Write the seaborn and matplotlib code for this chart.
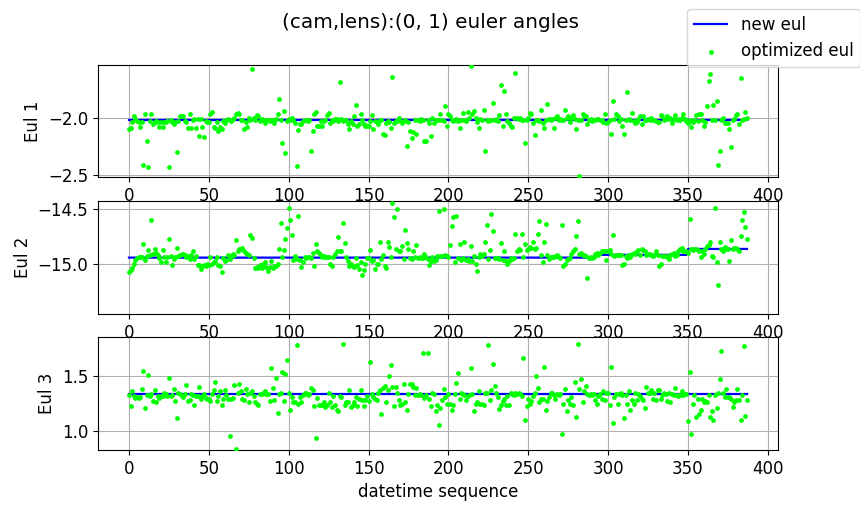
import numpy as np
import pandas as pd
import matplotlib
matplotlib.use("Agg")
import matplotlib.pyplot as plt
import seaborn as sns

plt.rcParams["font.size"] = 12

title = "(cam,lens):(0, 1) euler angles"
ylabels = ["Eul 1", "Eul 2", "Eul 3"]
xlabel = "datetime sequence"
xticks = [0, 50, 100, 150, 200, 250, 300, 350, 400]
yticks1 = [-2.5, -2.0]
yticks2 = [-15.0, -14.5]
yticks3 = [1.0, 1.5]
ylim1 = (-2.517, -1.543)
ylim2 = (-15.46, -14.43)
ylim3 = (0.827, 1.855)

# "new eul" levels (step function: level value starting at index)
new1_starts = [0]
new1_levels = [-2.02]
new2_starts = [0, 292, 350]
new2_levels = [-14.946, -14.921, -14.867]
new3_starts = [0]
new3_levels = [1.338]

eul1 = [
    -2.10, -2.09, -2.04, -1.99, -2.01, -2.03, -2.04, -2.08, -2.04, -2.41,
    -1.97, -2.20, -2.43, -2.03, -1.97, -2.06, -2.04, -2.03, -2.04, -2.08,
    -2.04, -2.08, -2.04, -2.04, -2.03, -2.43, -2.02, -2.04, -2.06, -2.04,
    -2.30, -2.03, -1.99, -1.99, -1.99, -2.03, -2.04, -2.09, -1.97, -2.09,
    -2.02, -2.01, -2.09, -2.01, -2.16, -2.01, -2.08, -2.17, -2.03, -2.04,
    -2.04, -1.97, -1.95, -2.08, -2.09, -2.04, -2.12, -2.08, -2.10, -2.03,
    -2.05, -2.02, -2.01, -2.02, -2.03, -2.01, -2.00, -1.97, -1.96, -1.97,
    -2.02, -2.02, -2.10, -2.04, -2.08, -2.00, -2.02, -1.58, -2.00, -2.02,
    -1.98, -1.99, -2.03, -2.01, -2.02, -2.05, -2.02, -2.02, -2.03, -2.02,
    -2.02, -2.05, -2.01, -1.97, -1.84, -2.02, -2.22, -1.94, -2.31, -2.03,
    -2.01, -2.02, -2.00, -2.02, -2.05, -2.42, -2.11, -2.06, -2.06, -2.03,
    -2.02, -2.02, -2.03, -2.02, -2.29, -2.12, -1.97, -1.95, -2.07, -2.07,
    -2.03, -2.07, -2.03, -2.02, -1.98, -1.96, -2.05, -2.02, -2.03, -2.01,
    -2.01, -2.03, -1.69, -2.01, -2.03, -2.02, -2.02, -2.06, -2.10, -2.03,
    -2.06, -1.99, -1.89, -2.07, -2.06, -1.97, -2.02, -2.06, -2.07, -2.07,
    -2.07, -2.03, -1.98, -2.10, -2.03, -2.04, -2.06, -2.02, -2.02, -2.14,
    -2.15, -2.05, -2.03, -2.04, -2.09, -1.65, -2.05, -2.03, -2.03, -2.00,
    -2.03, -2.05, -2.03, -2.02, -2.25, -2.04, -2.12, -2.18, -2.13, -2.02,
    -2.14, -2.02, -2.03, -2.01, -2.02, -2.20, -2.20, -2.02, -2.05, -2.16,
    -2.00, -2.05, -2.02, -2.02, -2.02, -1.97, -2.02, -2.03, -1.90, -2.07,
    -1.97, -1.99, -2.02, -2.03, -2.02, -2.01, -2.03, -2.09, -2.02, -1.96,
    -2.02, -2.03, -1.95, -2.00, -1.55, -1.97, -1.94, -2.00, -2.04, -2.09,
    -2.01, -2.02, -1.93, -2.29, -2.02, -2.03, -2.02, -2.02, -1.87, -2.02,
    -2.01, -2.03, -1.98, -1.72, -2.07, -1.77, -1.97, -2.03, -2.05, -2.07,
    -2.08, -2.00, -1.61, -2.00, -2.01, -2.00, -2.02, -2.02, -2.22, -2.02,
    -2.00, -1.96, -1.97, -2.05, -2.15, -2.02, -2.02, -2.03, -1.93, -2.05,
    -2.09, -2.02, -1.88, -2.01, -2.02, -2.01, -2.09, -2.00, -1.99, -2.02,
    -2.01, -2.02, -2.02, -1.93, -2.00, -1.99, -2.04, -2.00, -1.98, -2.01,
    -2.10, -2.02, -2.51, -2.02, -1.97, -1.99, -1.99, -2.06, -2.02, -2.01,
    -2.03, -2.02, -2.02, -2.01, -2.01, -2.02, -2.02, -2.04, -1.97, -2.05,
    -2.04, -2.02, -2.14, -1.86, -2.01, -1.97, -1.99, -2.03, -2.01, -2.07,
    -2.14, -2.02, -1.78, -2.01, -2.02, -1.96, -2.03, -2.05, -2.04, -2.01,
    -1.99, -2.06, -1.99, -2.02, -2.02, -2.01, -2.02, -2.00, -2.02, -2.02,
    -2.03, -2.04, -2.04, -1.98, -1.99, -2.02, -2.01, -1.99, -2.01, -2.00,
    -2.05, -2.01, -1.98, -2.02, -2.01, -2.02, -2.00, -1.97, -2.01, -2.03,
    -2.05, -2.02, -2.08, -2.04, -2.02, -1.98, -2.03, -1.97, -1.97, -2.02,
    -2.07, -2.04, -1.90, -1.68, -1.62, -2.02, -1.89, -2.02, -1.86, -2.41,
    -2.29, -2.02, -2.00, -2.05, -2.05, -2.05, -2.10, -2.26, -2.02, -2.01,
    -1.98, -1.97, -2.06, -1.66, -2.02, -2.01, -1.95, -2.00,
]

eul2 = [
    -15.08, -15.06, -15.04, -15.00, -14.97, -14.95, -14.94, -14.94, -14.94, -14.82,
    -14.97, -14.93, -14.88, -14.92, -14.60, -14.91, -14.87, -14.90, -14.92, -14.95,
    -14.99, -14.88, -14.94, -14.99, -14.94, -14.78, -14.93, -15.01, -14.96, -14.94,
    -14.86, -14.93, -14.92, -14.91, -14.91, -14.92, -14.94, -14.93, -14.96, -14.92,
    -14.89, -14.96, -14.93, -15.01, -15.01, -15.05, -15.02, -15.01, -15.02, -15.00,
    -15.01, -14.94, -15.00, -14.99, -14.98, -14.94, -15.01, -15.02, -15.08, -14.95,
    -14.98, -14.97, -14.92, -14.96, -14.93, -14.91, -14.92, -14.79, -14.89, -14.87,
    -14.87, -14.86, -14.89, -14.90, -14.91, -14.92, -14.74, -14.77, -14.95, -15.04,
    -15.03, -15.04, -15.01, -15.04, -15.00, -14.99, -15.03, -15.07, -15.03, -14.98,
    -15.04, -15.02, -15.02, -15.00, -14.87, -14.63, -14.94, -14.88, -14.78, -14.68,
    -14.49, -14.60, -14.74, -14.97, -14.93, -14.96, -14.57, -14.97, -15.03, -14.99,
    -14.94, -14.95, -14.94, -14.94, -14.95, -14.90, -15.02, -14.82, -14.89, -14.90,
    -14.92, -14.94, -14.93, -14.94, -14.94, -14.94, -15.00, -15.02, -14.94, -14.91,
    -14.89, -14.76, -14.89, -14.89, -14.63, -14.81, -14.94, -14.98, -15.02, -15.00,
    -15.02, -15.03, -14.95, -15.01, -15.05, -14.99, -15.10, -15.06, -15.00, -14.95,
    -14.95, -14.88, -14.98, -14.97, -15.05, -15.00, -15.00, -14.80, -14.96, -14.92,
    -15.02, -15.04, -14.80, -14.85, -14.94, -14.45, -14.58, -14.87, -14.50, -14.89,
    -14.89, -14.84, -14.96, -14.69, -14.81, -14.87, -14.95, -14.96, -14.89, -14.94,
    -14.83, -14.95, -14.94, -14.95, -14.95, -14.91, -14.94, -14.96, -15.01, -14.98,
    -14.94, -14.98, -14.97, -14.93, -14.52, -14.93, -14.93, -14.50, -14.92, -14.93,
    -14.94, -14.83, -14.66, -14.58, -14.99, -14.57, -14.95, -14.82, -14.97, -14.95,
    -14.80, -14.97, -14.96, -14.98, -14.84, -14.98, -14.93, -15.00, -15.07, -14.94,
    -14.91, -14.93, -14.91, -14.80, -14.65, -14.96, -14.88, -14.55, -14.70, -14.95,
    -14.95, -14.95, -14.96, -14.81, -14.97, -14.89, -14.98, -15.00, -14.98, -14.95,
    -14.96, -14.95, -14.73, -14.89, -14.87, -14.88, -14.73, -14.94, -14.82, -14.88,
    -14.87, -14.85, -14.86, -14.80, -14.87, -14.86, -14.73, -14.61, -14.92, -14.99,
    -14.80, -14.64, -14.92, -14.96, -14.94, -14.94, -14.94, -14.93, -14.92, -14.94,
    -14.95, -14.65, -15.02, -15.00, -14.97, -14.96, -14.95, -14.91, -14.89, -14.87,
    -14.75, -14.61, -14.91, -14.90, -14.92, -14.92, -14.93, -15.13, -14.95, -14.94,
    -14.95, -14.94, -14.91, -14.90, -14.92, -14.90, -14.89, -14.89, -14.89, -14.97,
    -14.89, -14.88, -14.91, -14.74, -14.93, -14.92, -14.92, -14.92, -14.92, -15.01,
    -15.00, -14.93, -14.95, -14.92, -14.94, -14.91, -14.90, -14.91, -14.89, -14.88,
    -14.92, -14.87, -14.88, -14.89, -14.92, -14.91, -14.91, -14.92, -14.93, -14.92,
    -14.89, -14.92, -15.02, -15.00, -14.93, -14.93, -14.93, -14.94, -14.96, -14.92,
    -14.91, -14.90, -14.93, -14.92, -14.89, -14.87, -14.86, -14.89, -14.89, -14.89,
    -14.90, -14.59, -14.87, -14.88, -14.87, -14.87, -14.88, -14.89, -14.94, -14.89,
    -14.91, -14.87, -14.84, -14.83, -14.80, -14.93, -14.94, -14.49, -14.99, -15.20,
    -14.80, -14.87, -14.89, -14.85, -14.87, -14.87, -14.98, -14.79, -14.87, -14.86,
    -14.86, -14.87, -14.89, -14.75, -14.60, -14.53, -14.67, -14.78,
]

eul3 = [
    1.33, 1.23, 1.36, 1.32, 1.30, 1.31, 1.30, 1.31, 1.38, 1.55,
    1.21, 1.33, 1.51, 1.32, 1.34, 1.27, 1.37, 1.26, 1.32, 1.30,
    1.32, 1.32, 1.35, 1.34, 1.32, 1.48, 1.32, 1.33, 1.38, 1.27,
    1.12, 1.35, 1.34, 1.32, 1.31, 1.34, 1.42, 1.27, 1.28, 1.34,
    1.33, 1.24, 1.32, 1.32, 1.40, 1.29, 1.32, 1.34, 1.30, 1.29,
    1.29, 1.27, 1.34, 1.37, 1.45, 1.27, 1.32, 1.36, 1.24, 1.29,
    1.37, 1.33, 1.29, 0.95, 1.29, 1.30, 1.42, 0.84, 1.35, 1.43,
    1.36, 1.29, 1.28, 1.38, 1.34, 1.26, 1.35, 1.36, 1.32, 1.26,
    1.25, 1.24, 1.34, 1.34, 1.35, 1.36, 1.34, 1.34, 1.27, 1.57,
    1.39, 1.28, 1.48, 1.16, 1.34, 1.35, 1.54, 1.27, 1.52, 1.65,
    1.35, 1.19, 1.31, 1.26, 1.26, 1.78, 1.25, 1.31, 1.26, 1.33,
    1.35, 1.35, 1.33, 1.34, 1.39, 1.37, 1.23, 0.94, 1.30, 1.24,
    1.24, 1.24, 1.26, 1.22, 1.24, 1.35, 1.26, 1.22, 1.32, 1.24,
    1.19, 1.18, 1.32, 1.31, 1.79, 1.24, 1.26, 1.26, 1.37, 1.22,
    1.24, 1.26, 1.31, 1.23, 1.29, 1.37, 1.28, 1.23, 1.28, 1.32,
    1.27, 1.63, 1.34, 1.31, 1.29, 1.28, 1.35, 1.37, 1.15, 1.39,
    1.41, 1.26, 1.37, 1.50, 1.60, 1.40, 1.23, 1.40, 1.35, 1.28,
    1.24, 1.25, 1.43, 1.26, 1.19, 1.34, 1.43, 1.43, 1.40, 1.33,
    1.39, 1.33, 1.34, 1.33, 1.71, 1.30, 1.33, 1.71, 1.29, 1.23,
    1.35, 1.34, 1.18, 1.24, 1.05, 1.21, 1.28, 1.38, 1.31, 1.25,
    1.34, 1.25, 1.19, 1.24, 1.34, 1.44, 1.53, 1.29, 1.35, 1.34,
    1.33, 1.28, 1.32, 1.33, 1.57, 1.34, 1.18, 1.25, 1.26, 1.36,
    1.25, 1.25, 1.24, 1.35, 1.35, 1.78, 1.28, 1.37, 1.61, 1.41,
    1.35, 1.31, 1.20, 1.24, 1.27, 1.29, 1.24, 1.32, 1.24, 1.35,
    1.34, 1.33, 1.35, 1.34, 1.35, 1.34, 1.32, 1.66, 1.10, 1.23,
    1.29, 1.25, 1.27, 1.32, 1.35, 1.50, 1.39, 1.26, 1.29, 1.29,
    1.58, 1.19, 1.27, 1.31, 1.35, 1.35, 1.33, 1.29, 1.34, 1.33,
    1.34, 0.97, 1.25, 1.38, 1.18, 1.28, 1.25, 1.31, 1.24, 1.45,
    1.13, 1.79, 1.38, 1.47, 1.26, 1.36, 1.41, 1.34, 1.33, 1.34,
    1.33, 1.34, 1.28, 1.25, 1.32, 1.34, 1.29, 1.36, 1.28, 1.35,
    1.35, 1.24, 1.58, 1.07, 1.31, 1.34, 1.25, 1.34, 1.35, 1.33,
    1.12, 1.33, 1.25, 1.36, 1.19, 1.28, 1.25, 1.35, 1.28, 1.34,
    1.32, 1.29, 1.28, 1.21, 1.40, 1.35, 1.35, 1.37, 1.29, 1.35,
    1.28, 1.37, 1.37, 1.29, 1.33, 1.35, 1.34, 1.27, 1.35, 1.26,
    1.34, 1.33, 1.39, 1.33, 1.32, 1.33, 1.36, 1.33, 1.34, 1.34,
    1.09, 1.54, 0.97, 1.25, 1.33, 1.13, 1.29, 1.15, 1.19, 1.29,
    1.26, 1.27, 1.26, 1.33, 1.13, 1.18, 1.10, 1.33, 1.21, 1.35,
    1.47, 1.73, 1.35, 1.31, 1.38, 1.31, 1.31, 1.29, 1.22, 1.26,
    1.28, 1.38, 1.28, 1.10, 1.33, 1.77, 1.14, 1.28,
]


def step_series(n, starts, levels):
    idx = np.searchsorted(np.asarray(starts), np.arange(n), side="right") - 1
    return np.asarray(levels)[idx]


series = [
    (eul1, new1_starts, new1_levels, yticks1, ylim1),
    (eul2, new2_starts, new2_levels, yticks2, ylim2),
    (eul3, new3_starts, new3_levels, yticks3, ylim3),
]

fig = plt.figure(figsize=(8.6, 5.05), dpi=100)
left, width = 98 / 860, 680 / 860
rects = [
    (left, 1 - 177 / 505, width, 112 / 505),
    (left, 1 - 314 / 505, width, 113 / 505),
    (left, 1 - 450 / 505, width, 113 / 505),
]

axes = []
for k, ((vals, starts, levels, yt, yl), rect) in enumerate(zip(series, rects)):
    ax = fig.add_axes(rect)
    n = len(vals)
    df = pd.DataFrame({
        "seq": np.arange(n),
        "opt": vals,
        "new": step_series(n, starts, levels),
    })
    sns.lineplot(data=df, x="seq", y="new", ax=ax, color="blue", linewidth=1.6,
                 label="new eul", zorder=2)
    sns.scatterplot(data=df, x="seq", y="opt", ax=ax, color="#00ff00", s=12,
                    linewidth=0, label="optimized eul", zorder=3)
    ax.set_xticks(xticks)
    ax.set_xlim(-19.4, 406.4)
    ax.set_yticks(yt)
    ax.set_ylim(*yl)
    ax.grid(True, color="#b0b0b0", linewidth=0.8)
    ax.set_axisbelow(True)
    ax.set_ylabel(ylabels[k], fontsize=12)
    ax.set_xlabel("")
    ax.tick_params(labelsize=12)
    if k == 0:
        handles, labels = ax.get_legend_handles_labels()
    if ax.get_legend() is not None:
        ax.get_legend().remove()
    axes.append(ax)

axes[-1].set_xlabel(xlabel, fontsize=12)
fig.suptitle(title, fontsize=14.4, y=0.975)
fig.legend(handles, labels, loc="upper right", bbox_to_anchor=(1.0, 0.982),
           borderaxespad=0, fontsize=12)

fig.savefig("out.png", dpi=100)
